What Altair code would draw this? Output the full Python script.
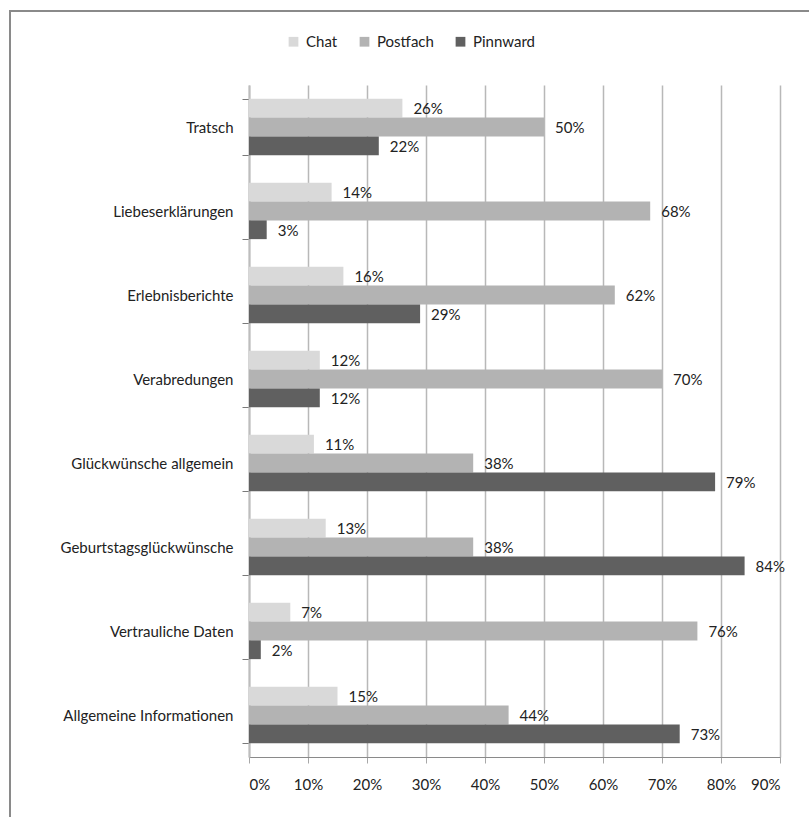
import altair as alt
import pandas as pd

# Survey: which channel is used for which kind of message (share in %)
categories = [
    "Tratsch",
    "Liebeserklärungen",
    "Erlebnisberichte",
    "Verabredungen",
    "Glückwünsche allgemein",
    "Geburtstagsglückwünsche",
    "Vertrauliche Daten",
    "Allgemeine Informationen",
]
series = ["Chat", "Postfach", "Pinnward"]
chat = [26, 14, 16, 12, 11, 13, 7, 15]
postfach = [50, 68, 62, 70, 38, 38, 76, 44]
pinnward = [22, 3, 29, 12, 79, 84, 2, 73]
x_ticks = [0, 10, 20, 30, 40, 50, 60, 70, 80, 90]
colors = ["#d9d9d9", "#b3b3b3", "#606060"]

rows = []
for name, values in zip(series, [chat, postfach, pinnward]):
    for cat, v in zip(categories, values):
        rows.append({"Kategorie": cat, "Kanal": name, "Anteil": v, "Label": f"{v}%"})
df = pd.DataFrame(rows)

FONT = "Lato"
TEXT = "#222222"

y_enc = alt.Y(
    "Kategorie:N",
    sort=categories,
    scale=alt.Scale(paddingInner=0.33, paddingOuter=0.165),
    axis=alt.Axis(
        title=None,
        tickBand="extent",
        tickSize=7,
        tickColor="#7a7a7a",
        domainColor="#bdbdbd",
        domainWidth=2,
        labelPadding=9,
        labelFontSize=15,
        labelFont=FONT,
        labelColor=TEXT,
    ),
)
yoff = alt.YOffset("Kanal:N", sort=series)
x_enc = alt.X(
    "Anteil:Q",
    scale=alt.Scale(domain=[0, 90], nice=False),
    axis=alt.Axis(
        title=None,
        values=x_ticks,
        labelExpr="datum.value + '%'",
        grid=True,
        gridColor="#b8b8b8",
        gridWidth=1.5,
        tickSize=6,
        tickColor="#a8a8a8",
        domainColor="#8a8a8a",
        labelPadding=14,
        labelFontSize=15,
        labelFont=FONT,
        labelColor=TEXT,
    ),
)

base = alt.Chart(df)

bars = base.mark_bar().encode(
    y=y_enc,
    yOffset=yoff,
    x=x_enc,
    color=alt.Color(
        "Kanal:N",
        sort=series,
        scale=alt.Scale(domain=series, range=colors),
        legend=alt.Legend(
            title=None,
            orient="none",
            direction="horizontal",
            legendX=37,
            legendY=-51,
            symbolType="square",
            symbolSize=95,
            symbolStrokeWidth=0,
            labelFontSize=15,
            labelFont=FONT,
            labelColor=TEXT,
            labelOffset=5,
            columnPadding=19,
        ),
    ),
)

labels = base.mark_text(
    align="left", baseline="middle", dx=11, dy=1, fontSize=15, font=FONT, color=TEXT
).encode(
    y=alt.Y("Kategorie:N", sort=categories),
    yOffset=yoff,
    x="Anteil:Q",
    text="Label:N",
)

# outer frame around the whole graphic
frame = alt.Chart(pd.DataFrame({"f": [0]})).mark_rect(
    fillOpacity=0, stroke="#8a8a8a", strokeWidth=2
).encode(
    x=alt.value(-239),
    x2=alt.value(620),
    y=alt.value(-74),
    y2=alt.value(800),
)

chart = (
    alt.layer(frame, bars, labels)
    .properties(
        width=531,
        height=672,
        autosize=alt.AutoSizeParams(type="none"),
        padding={"left": 249, "top": 85, "right": 29, "bottom": 60},
        background="white",
    )
    .configure_view(strokeWidth=0)
)

chart.save("out.html", embed_options={"renderer": "svg", "actions": False})
